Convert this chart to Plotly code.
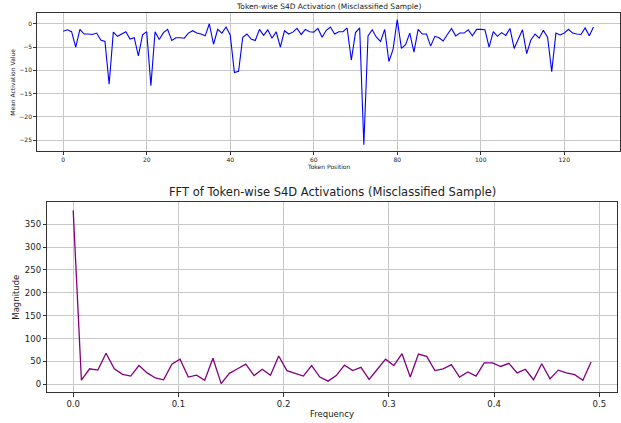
import plotly.graph_objects as go

W, H = 621, 423

# ---- data ----
token_position = list(range(128))
mean_activation = [
    -1.6, -1.3, -1.7, -5.0, -1.2, -2.2, -2.2, -2.3, -2.0, -3.5,
    -3.8, -13.0, -1.8, -2.7, -2.2, -1.7, -3.3, -3.0, -6.9, -2.4,
    -1.7, -13.3, -1.7, -3.4, -1.9, -1.2, -3.6, -3.0, -3.0, -3.1,
    -2.0, -1.5, -2.0, -2.2, -2.6, 0.0, -4.4, -1.2, -2.0, -0.7,
    -2.4, -10.5, -10.2, -2.9, -2.2, -3.3, -3.6, -1.2, -2.5, -1.3,
    -3.1, -1.7, -5.0, -1.5, -2.2, -1.8, -1.0, -2.3, -1.2, -1.7,
    -1.8, -1.0, -2.9, -1.4, -0.7, -2.2, -1.7, -1.7, -0.9, -7.8,
    -1.9, -0.9, -26.0, -2.6, -1.3, -2.9, -3.8, -1.2, -8.1, -5.5,
    0.9, -5.3, -4.5, -2.0, -6.1, -1.2, -2.2, -2.2, -4.8, -2.7,
    -3.0, -3.7, -2.3, -1.0, -2.6, -2.0, -2.0, -1.3, -2.6, -1.2,
    -1.2, -1.3, -5.0, -1.7, -2.7, -1.9, -2.5, -1.0, -5.3, -3.3,
    -1.3, -6.4, -3.5, -2.2, -3.1, -1.4, -2.9, -10.3, -2.0, -2.4,
    -2.0, -1.2, -2.0, -2.2, -2.3, -0.9, -2.6, -0.7,
]

frequency = [k / 128 for k in range(64)]
magnitude = [
    380, 9, 34, 31, 68, 34, 22, 18, 41, 25,
    14, 10, 44, 55, 16, 20, 9, 57, 1.5, 24,
    34, 44, 19, 33, 20, 62, 30, 24, 18, 41,
    16, 7, 19, 42, 30, 37, 11, 33, 55, 41,
    67, 16, 66, 61, 30, 34, 43, 16, 27, 18,
    47, 47, 39, 46, 25, 33, 10, 45, 12, 31,
    25, 21, 9, 49,
]

top_xticks = [0, 20, 40, 60, 80, 100, 120]
top_yticks = [0, -5, -10, -15, -20, -25]
bot_xticks = [0.0, 0.1, 0.2, 0.3, 0.4, 0.5]
bot_yticks = [0, 50, 100, 150, 200, 250, 300, 350]

FONT = "DejaVu Sans"
GRID = "#c8c8c8"
SPINE = "#333333"


def px_x(p):
    return p / W


def px_y(p):
    return 1 - p / H


fig = go.Figure()
fig.add_trace(go.Scatter(x=token_position, y=mean_activation, mode="lines",
                         line=dict(color="#0000ff", width=1.1),
                         xaxis="x", yaxis="y", showlegend=False))
fig.add_trace(go.Scatter(x=frequency, y=magnitude, mode="lines",
                         line=dict(color="#800080", width=1.3),
                         xaxis="x2", yaxis="y2", showlegend=False))

common = dict(showline=True, mirror=True, linecolor=SPINE, linewidth=1,
              showgrid=True, gridcolor=GRID, gridwidth=0.8, zeroline=False,
              ticks="outside", tickcolor=SPINE, tickwidth=0.8)

fig.update_layout(
    width=W, height=H,
    margin=dict(l=0, r=0, t=0, b=0),
    paper_bgcolor="white", plot_bgcolor="white",
    font=dict(family=FONT, color="#222222"),
    xaxis=dict(domain=[px_x(36.7), px_x(620)], anchor="y",
               range=[-6.35, 133.35], tickmode="array", tickvals=top_xticks,
               tickfont=dict(size=6), ticklen=2.5, **common),
    yaxis=dict(domain=[px_y(151), px_y(13.3)], anchor="x",
               range=[-27.35, 2.25], tickmode="array", tickvals=top_yticks,
               tickfont=dict(size=6), ticklen=2.5, **common),
    xaxis2=dict(domain=[px_x(47.3), px_x(617)], anchor="y2",
                range=[-0.0246, 0.5168], tickmode="array", tickvals=bot_xticks,
                ticktext=[f"{v:.1f}" for v in bot_xticks],
                tickfont=dict(size=8.5), ticklen=3.5, **common),
    yaxis2=dict(domain=[px_y(392.3), px_y(201.7)], anchor="x2",
                range=[-17.4, 399.0], tickmode="array", tickvals=bot_yticks,
                tickfont=dict(size=8.5), ticklen=3.5, **common),
)

annotations = [
    dict(text="Token-wise S4D Activation (Misclassified Sample)",
         x=px_x(328.5), y=px_y(6.8), font=dict(size=7.5)),
    dict(text="Token Position", x=px_x(328.5), y=px_y(166), font=dict(size=6)),
    dict(text="Mean Activation Value", x=px_x(11.7), y=px_y(82), textangle=-90,
         font=dict(size=6)),
    dict(text="FFT of Token-wise S4D Activations (Misclassified Sample)",
         x=px_x(332), y=px_y(192.3), font=dict(size=11.5)),
    dict(text="Frequency", x=px_x(332), y=px_y(414), font=dict(size=8.5)),
    dict(text="Magnitude", x=px_x(15.7), y=px_y(297), textangle=-90,
         font=dict(size=8.5)),
]
for a in annotations:
    fig.add_annotation(xref="paper", yref="paper", showarrow=False,
                       xanchor="center", yanchor="middle", **a)

fig.write_html("out.html")
